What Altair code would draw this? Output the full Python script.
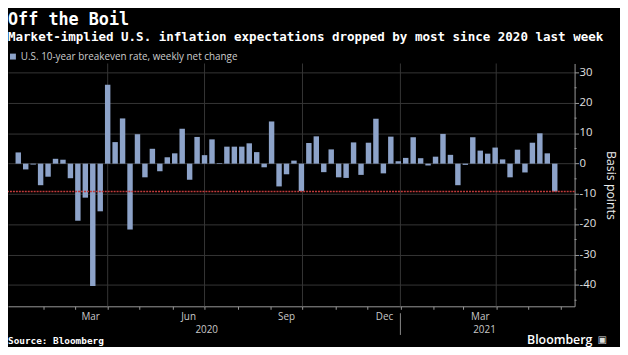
import altair as alt
import pandas as pd

# ---------------- data ----------------
title_text = "Off the Boil"
subtitle_text = "Market-implied U.S. inflation expectations dropped by most since 2020 last week"
series_name = "U.S. 10-year breakeven rate, weekly net change"
source_text = "Source: Bloomberg"
brand_text = "Bloomberg"
y_title = "Basis points"

first_week = "2020-01-08"
weekly_change = [
    3.7, -1.9, -0.3, -7.1, -4.3, 1.6, 1.3, -4.8, -18.8, -11.2,
    -40.3, -15.7, 26.0, 7.1, 14.9, -21.7, 9.7, -4.5, 4.9, -2.5,
    2.1, 3.4, 11.5, -5.3, 8.8, 2.8, 8.0, 0.2, 5.6, 5.6,
    5.6, 6.7, 3.8, -1.2, 13.9, -7.5, -3.5, 1.0, -9.0, 6.8,
    9.0, -2.8, 4.7, -4.5, -4.7, 7.0, -3.7, 6.9, 14.8, -3.2,
    8.9, 0.8, 1.9, 8.7, 1.8, -0.6, 2.3, 9.8, 2.9, -7.1,
    -0.4, 8.7, 4.3, 3.3, 5.3, 1.4, -4.5, 4.6, -2.9, 6.9,
    10.0, 3.4, -9.2,
]
week_dates = pd.date_range(first_week, periods=len(weekly_change), freq="7D").strftime("%Y-%m-%d").tolist()

month_labels = ["Mar", "Jun", "Sep", "Dec", "Mar"]
month_label_dates = ["2020-03-16", "2020-06-16", "2020-09-16", "2020-12-17", "2021-03-17"]
year_labels = ["2020", "2021"]
year_label_dates = ["2020-07-03", "2021-03-21"]
year_break_dates = ["2021-01-01"]
y_major_ticks = [-40, -30, -20, -10, 0, 10, 20, 30]
y_tick_labels = ["-40", "-30", "-20", "-10", "0", "10", "20", "30"]
y_minor_ticks = [-45, -35, -25, -15, -5, 5, 15, 25]
x_domain = [(2020, 1, 3), (2021, 6, 9)]
month_ticks = [(2020, m) for m in range(2, 13)] + [(2021, m) for m in range(1, 7)]
quarter_starts = ["2020-04-01", "2020-07-01", "2020-10-01", "2021-01-01", "2021-04-01"]

bar_color = "#8da3c9"
grid_color = "#363636"
axis_color = "#9a9a9a"

df = pd.DataFrame({"date": week_dates, "value": weekly_change, "series": series_name})
last_df = pd.DataFrame({"value": [weekly_change[-1]]})
month_df = pd.DataFrame({"date": month_label_dates, "label": month_labels})
year_df = pd.DataFrame({"date": year_label_dates, "label": year_labels})
break_df = pd.DataFrame({"date": year_break_dates})
minor_df = pd.DataFrame({"value": y_minor_ticks})
ylab_df = pd.DataFrame({"value": y_major_ticks, "label": y_tick_labels})
quarter_df = pd.DataFrame({"date": quarter_starts})

W, H = 574, 246

x_scale = alt.Scale(
    type="utc",
    domain=[alt.DateTime(year=y, month=m, date=d, utc=True) for (y, m, d) in x_domain],
    nice=False,
)
y_scale = alt.Scale(domain=[-47, 33], nice=False, zero=True)

x_axis = alt.Axis(
    title=None,
    values=[alt.DateTime(year=y, month=m, date=1, utc=True) for (y, m) in month_ticks],
    labels=False,
    tickSize=3,
    tickColor=axis_color,
    domainColor=axis_color,
    grid=False,
)
y_axis = alt.Axis(
    orient="right",
    values=y_major_ticks,
    labels=False,
    tickColor=axis_color,
    tickSize=4,
    domainColor=axis_color,
    grid=True,
    gridColor=grid_color,
    title=y_title,
    titleAngle=90,
    titleX=36,
    titleY=H / 2,
    titleAlign="center",
    titleBaseline="middle",
    titleColor="#eeeeee",
    titleFont="Open Sans",
    titleFontSize=12.5,
    titleFontWeight="normal",
)

quarter_grid = alt.Chart(quarter_df).mark_rule(color=grid_color, strokeWidth=1).encode(
    x=alt.X("date:T", scale=x_scale, axis=x_axis)
)

bars = alt.Chart(df).mark_bar(size=5.5).encode(
    x=alt.X("date:T", scale=x_scale, axis=x_axis),
    y=alt.Y("value:Q", scale=y_scale, axis=y_axis),
    color=alt.Color(
        "series:N",
        scale=alt.Scale(range=[bar_color]),
        legend=alt.Legend(
            orient="none", legendX=0, legendY=-12, title=None,
            symbolType="square", symbolSize=36, symbolStrokeWidth=0,
            labelColor="#cccccc", labelFont="Open Sans", labelFontSize=10,
            labelOffset=3, labelLimit=0, padding=0,
        ),
    ),
)

minor_ticks = alt.Chart(minor_df).mark_rule(color=axis_color, strokeWidth=1).encode(
    y=alt.Y("value:Q", scale=y_scale, axis=y_axis), x=alt.value(W), x2=alt.value(W + 2)
)

y_labels = alt.Chart(ylab_df).mark_text(
    color="#e0e0e0", font="Open Sans", fontSize=11.5, align="left", baseline="middle"
).encode(y=alt.Y("value:Q", scale=y_scale, axis=y_axis), x=alt.value(W + 5), text="label:N")

last_rule = alt.Chart(last_df).mark_rule(color="#c23b3b", strokeDash=[2, 1], strokeWidth=1.5).encode(
    y=alt.Y("value:Q", scale=y_scale, axis=y_axis)
)

month_text = alt.Chart(month_df).mark_text(
    color="#c8c8c8", font="Open Sans", fontSize=10, baseline="middle", align="center"
).encode(x=alt.X("date:T", scale=x_scale, axis=x_axis), y=alt.value(H + 11), text="label:N")

year_text = alt.Chart(year_df).mark_text(
    color="#c8c8c8", font="Open Sans", fontSize=10, baseline="middle", align="center"
).encode(x=alt.X("date:T", scale=x_scale, axis=x_axis), y=alt.value(H + 24), text="label:N")

year_break = alt.Chart(break_df).mark_rule(color="#8a8a8a", strokeWidth=1).encode(
    x=alt.X("date:T", scale=x_scale, axis=x_axis), y=alt.value(H + 7), y2=alt.value(H + 29)
)

def label(text, x, y, **kw):
    return alt.Chart(pd.DataFrame({"t": [text]})).mark_text(**kw).encode(
        x=alt.value(x), y=alt.value(y), text="t:N"
    )

title = label(title_text, 0, -39, font="DejaVu Sans Mono", fontWeight="bold", fontSize=17,
              color="#ffffff", align="left", baseline="alphabetic")
subtitle = label(subtitle_text, 0, -23, font="DejaVu Sans Mono", fontWeight="bold", fontSize=12.7,
                 color="#ffffff", align="left", baseline="alphabetic")
source = label(source_text, 0, H + 35, font="DejaVu Sans Mono", fontWeight="bold", fontSize=9.5,
               color="#ffffff", align="left", baseline="middle")
brand = label(brand_text, 592, H + 34, font="Open Sans", fontWeight=600, fontSize=12.5,
              color="#ffffff", align="right", baseline="middle")
brand_icon = label("\u25a3", 602, H + 34, font="DejaVu Sans", fontSize=10,
                   color="#dddddd", align="center", baseline="middle")

chart = alt.layer(
    quarter_grid, bars, minor_ticks, y_labels, last_rule, year_break, month_text, year_text,
    title, subtitle, source, brand, brand_icon
).properties(
    width=W,
    height=H,
    autosize=alt.AutoSizeParams(type="none"),
    padding={"left": 0, "top": 54, "right": 46, "bottom": 39},
    background="#000000",
).configure_view(stroke=None)

chart.save("out.html", embed_options={"renderer": "svg", "actions": False})
